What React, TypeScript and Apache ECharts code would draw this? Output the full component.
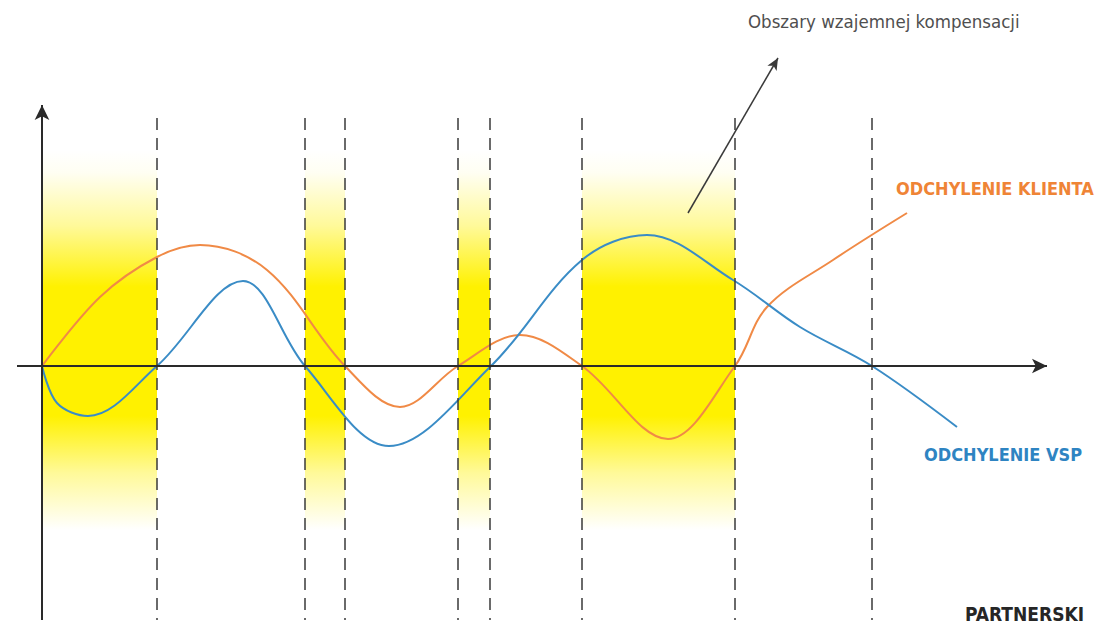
import React, { useEffect, useRef } from "react";
import * as echarts from "echarts";

// Curves (x: time units, y: deviation units)
const klientaCurve: [number, number][] = [
  [0, 0], [5.8, 6.9], [11.5, 10.9], [15.8, 12.1], [22.5, 9.6], [30.3, 0],
  [35.8, -4.1], [41.6, 0], [47.8, 3.1], [54.0, 0], [62.6, -7.3], [69.3, 0],
  [72.5, 5.9], [79.1, 10.6], [86.5, 15.3],
];
const vspCurve: [number, number][] = [
  [0, 0], [1.5, -3.7], [4.6, -5.0], [11.5, 0], [20.1, 8.5], [26.3, 0],
  [34.7, -8.0], [44.9, 0], [54.0, 10.6], [60.5, 13.1], [69.1, 8.6],
  [75.8, 3.9], [83.0, 0], [91.5, -6.1],
];
// Dashed dividers (x positions)
const dividers = [11.5, 26.3, 30.3, 41.6, 44.8, 54.0, 69.3, 83.0];
// Compensation areas [from, to]
const compensationAreas: [number, number][] = [
  [0, 11.5], [26.3, 30.3], [41.6, 44.8], [54.0, 69.3],
];
const dividerTop = 24.8;
const dividerBottom = -25.4;
const areaTop = 21.6;
const areaBottom = -16.4;
const xAxisLine: [number, number][] = [[-2.5, 0], [100.5, 0]];
const yAxisLine: [number, number][] = [[0, -25.4], [0, 26.1]];
const annotationArrow: [number, number][] = [[64.6, 15.3], [73.6, 30.8]];

const texts = {
  annotation: "Obszary wzajemnej kompensacji",
  klienta: "ODCHYLENIE KLIENTA",
  vsp: "ODCHYLENIE VSP",
  brand: "PARTNERSKI",
};

const X_MIN = -4.2, X_MAX = 105.3, Y_MIN = -26.1, Y_MAX = 36.6;
const ORANGE = "#F08A46";
const BLUE = "#3A8CC6";
const COND = "'DejaVu Sans Condensed', 'Liberation Sans Narrow', 'DejaVu Sans', sans-serif";

export default function App() {
  const ref = useRef<HTMLDivElement>(null);
  useEffect(() => {
    if (!ref.current) return;
    const chart = echarts.init(ref.current, null, { renderer: "svg" });
    const yellow = (a: number) => `rgba(255,241,0,${a})`;
    const grad = new echarts.graphic.LinearGradient(0, 0, 0, 1, [
      { offset: 0, color: yellow(0) },
      { offset: 0.06, color: yellow(0.05) },
      { offset: 0.2, color: yellow(0.4) },
      { offset: 0.36, color: yellow(1) },
      { offset: 0.7, color: yellow(1) },
      { offset: 0.85, color: yellow(0.4) },
      { offset: 1, color: yellow(0) },
    ]);
    const curveBase = {
      type: "line",
      smooth: 0.35,
      showSymbol: false,
      z: 4,
    };
    const option: any = {
      animation: false,
      grid: { left: 0, right: 0, top: 0, bottom: 0 },
      xAxis: { type: "value", min: X_MIN, max: X_MAX, show: false },
      yAxis: { type: "value", min: Y_MIN, max: Y_MAX, show: false },
      series: [
        {
          type: "line",
          data: [],
          z: 1,
          silent: true,
          markArea: {
            silent: true,
            label: { show: false },
            itemStyle: { color: grad, opacity: 1, borderWidth: 0 },
            data: compensationAreas.map(([a, b]) => [
              { coord: [a, areaTop] },
              { coord: [b, areaBottom] },
            ]),
          },
        },
        {
          type: "line",
          data: [],
          z: 2,
          silent: true,
          markLine: {
            silent: true,
            symbol: ["none", "none"],
            label: { show: false },
            lineStyle: { color: "#3a3a3a", width: 1.5, type: [12, 8] },
            data: dividers.map((x) => [
              { coord: [x, dividerTop] },
              { coord: [x, dividerBottom] },
            ]),
          },
        },
        {
          type: "line",
          data: [],
          z: 3,
          silent: true,
          markLine: {
            silent: true,
            symbol: ["none", "arrow"],
            symbolSize: [11, 15],
            label: { show: false },
            lineStyle: { color: "#2a2a2a", width: 2, type: "solid" },
            data: [
              [{ coord: xAxisLine[0] }, { coord: xAxisLine[1] }],
              [{ coord: yAxisLine[0] }, { coord: yAxisLine[1] }],
            ],
          },
        },
        {
          type: "line",
          data: [],
          z: 3,
          silent: true,
          markLine: {
            silent: true,
            symbol: ["none", "arrow"],
            symbolSize: [8, 12],
            label: { show: false },
            lineStyle: { color: "#3a3a3a", width: 1.5, type: "solid" },
            data: [[{ coord: annotationArrow[0] }, { coord: annotationArrow[1] }]],
          },
        },
        {
          ...curveBase,
          name: texts.klienta,
          data: klientaCurve,
          lineStyle: { color: ORANGE, width: 2 },
          itemStyle: { color: ORANGE },
        },
        {
          ...curveBase,
          name: texts.vsp,
          data: vspCurve,
          lineStyle: { color: BLUE, width: 2 },
          itemStyle: { color: BLUE },
        },
      ],
      graphic: [
        {
          type: "text",
          left: 748,
          top: 12,
          style: { text: texts.annotation, fill: "#4f4f4f", font: `18.5px ${COND}` },
        },
        {
          type: "text",
          left: 896,
          top: 179,
          style: { text: texts.klienta, fill: "#EF8436", font: `bold 18px ${COND}` },
        },
        {
          type: "text",
          left: 924,
          top: 445,
          style: { text: texts.vsp, fill: "#2E84C2", font: `bold 18px ${COND}` },
        },
        {
          type: "text",
          left: 965,
          top: 604,
          style: { text: texts.brand, fill: "#262626", font: `bold 19px ${COND}` },
        },
      ],
    };
    chart.setOption(option);
    return () => chart.dispose();
  }, []);
  return (
    <div
      ref={ref}
      style={{ position: "absolute", left: 0, top: 0, width: 1095, height: 627, background: "#fff" }}
    />
  );
}
